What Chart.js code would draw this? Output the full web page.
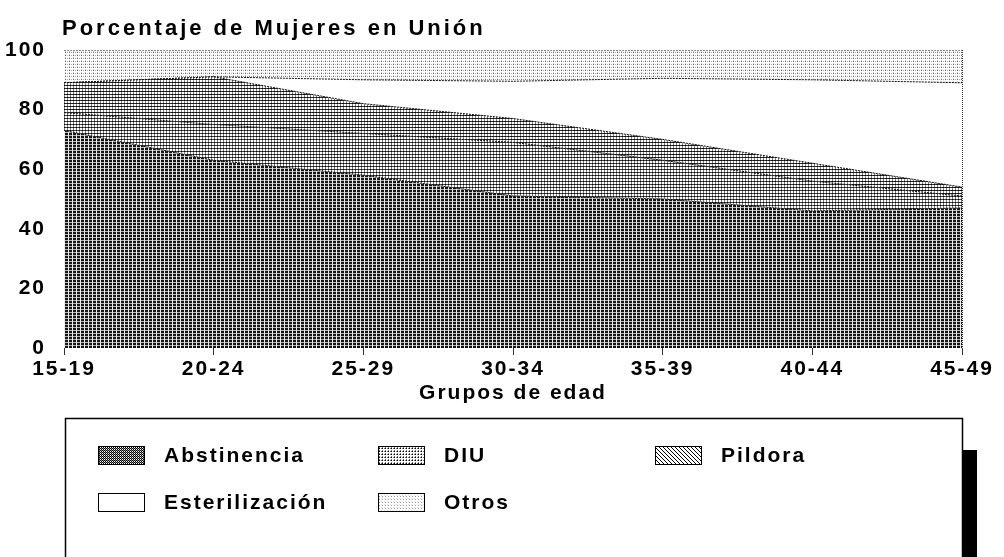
<!DOCTYPE html>
<html lang="es">
<head>
<meta charset="utf-8">
<title>Porcentaje de Mujeres en Unión</title>
<style>
  html, body { margin: 0; padding: 0; background: #fff; }
  canvas { display: block; }
</style>
</head>
<body>
<canvas id="canvas" width="1004" height="557"></canvas>

<script src="https://cdn.jsdelivr.net/npm/chart.js"></script>
<script>
// datos (porcentaje por método, se apilan hasta 100)
const grupos = ['15-19', '20-24', '25-29', '30-34', '35-39', '40-44', '45-49'];
const abstinencia    = [73, 63, 58, 51, 50, 46, 47];
const diu            = [6, 12, 14, 18, 13, 10, 4];
const pildora        = [10, 16, 10, 8, 7, 6, 3];
const esterilizacion = [0, 0, 8, 12.5, 20.5, 28, 35];
const otros          = [11, 9, 10, 10.5, 9.5, 10, 11];
const marcasY = [0, 20, 40, 60, 80, 100];

const FUENTE = "'Liberation Sans', Arial, sans-serif";

// tramas tipo impresora
function patron(w, h, pintar) {
  const c = document.createElement('canvas');
  c.width = w; c.height = h;
  const g = c.getContext('2d');
  g.fillStyle = '#fff';
  g.fillRect(0, 0, w, h);
  pintar(g);
  return g.createPattern(c, 'repeat');
}
function px(g, color, x, y) { g.fillStyle = color; g.fillRect(x, y, 1, 1); }

const relleno = {
  abst: patron(4, 3, g => {
    g.fillStyle = '#151515'; g.fillRect(0, 0, 4, 3);
    g.fillStyle = '#b5b5b5'; g.fillRect(0, 0, 4, 1);
    g.fillStyle = '#eeeeee'; g.fillRect(0, 0, 1, 3);
  }),
  diu: patron(3, 3, g => {
    px(g, '#000', 1, 1);
    px(g, '#444', 0, 1); px(g, '#444', 2, 1);
    px(g, '#777', 1, 0); px(g, '#777', 1, 2);
  }),
  pild: patron(3, 3, g => {
    px(g, '#000', 1, 1); px(g, '#222', 0, 1); px(g, '#333', 2, 1);
    px(g, '#777', 1, 0); px(g, '#888', 1, 2);
  }),
  est: '#ffffff',
  otros: patron(4, 3, g => {
    px(g, '#666', 1, 1); px(g, '#aaa', 3, 1); px(g, '#ccc', 1, 0);
  })
};

// muestras de la leyenda
const muestra = {
  abst: patron(2, 2, g => { px(g, '#000', 0, 0); px(g, '#000', 1, 1); px(g, '#888', 1, 0); }),
  diu: patron(3, 3, g => { px(g, '#000', 1, 1); px(g, '#777', 0, 1); px(g, '#777', 1, 0); }),
  pild: patron(4, 4, g => { for (let i = 0; i < 4; i++) px(g, '#000', i, i); }),
  est: '#ffffff',
  otros: patron(3, 3, g => { px(g, '#999', 1, 1); px(g, '#ddd', 0, 0); })
};

function serie(label, data, fondo, caja, fill) {
  return {
    label: label,
    data: data,
    backgroundColor: fondo,
    muestra: caja,
    fill: fill,
    borderColor: '#111',
    borderWidth: 1,
    borderDash: [2, 1],
    pointRadius: 0,
    tension: 0
  };
}

const espaciado = {
  id: 'espaciado',
  beforeUpdate(chart) { chart.ctx.letterSpacing = '2px'; },
  beforeDraw(chart) { chart.ctx.letterSpacing = '2px'; }
};

const titulo = {
  id: 'titulo',
  afterDraw(chart) {
    const ctx = chart.ctx;
    ctx.save();
    ctx.letterSpacing = '3px';
    ctx.font = 'bold 22px ' + FUENTE;
    ctx.fillStyle = '#000';
    ctx.textBaseline = 'middle';
    ctx.fillText('Porcentaje de Mujeres en Unión', chart.chartArea.left - 2, chart.chartArea.top - 21);
    // borde derecho punteado del área
    ctx.strokeStyle = '#333';
    ctx.setLineDash([1, 1]);
    ctx.beginPath();
    ctx.moveTo(chart.chartArea.right + 0.5, chart.chartArea.top);
    ctx.lineTo(chart.chartArea.right + 0.5, chart.chartArea.bottom);
    ctx.stroke();
    ctx.restore();
  }
};

const leyenda = {
  id: 'leyenda',
  afterDraw(chart) {
    const ctx = chart.ctx;
    ctx.save();
    ctx.letterSpacing = '2px';
    ctx.strokeStyle = '#000';
    ctx.lineWidth = 1.5;
    ctx.beginPath();
    ctx.moveTo(65.5, 560);
    ctx.lineTo(65.5, 418.5);
    ctx.lineTo(962.5, 418.5);
    ctx.lineTo(962.5, 560);
    ctx.stroke();
    ctx.fillStyle = '#000';
    ctx.fillRect(963, 450, 14, 110);

    const cols = [98, 378, 655];
    const filas = [455, 502];
    ctx.font = 'bold 21px ' + FUENTE;
    ctx.textBaseline = 'middle';
    ctx.lineWidth = 1;
    chart.data.datasets.forEach((ds, i) => {
      const x = cols[i % 3], y = filas[Math.floor(i / 3)];
      ctx.fillStyle = ds.muestra;
      ctx.fillRect(x, y - 9, 46, 18);
      ctx.strokeRect(x + 0.5, y - 8.5, 46, 18);
      ctx.fillStyle = '#000';
      ctx.fillText(ds.label, x + 66, y + 1);
    });
    ctx.restore();
  }
};

new Chart(document.getElementById('canvas'), {
  type: 'line',
  data: {
    labels: grupos,
    datasets: [
      serie('Abstinencia', abstinencia, relleno.abst, muestra.abst, 'origin'),
      serie('DIU', diu, relleno.diu, muestra.diu, '-1'),
      serie('Pildora', pildora, relleno.pild, muestra.pild, '-1'),
      serie('Esterilización', esterilizacion, relleno.est, muestra.est, '-1'),
      serie('Otros', otros, relleno.otros, muestra.otros, '-1')
    ]
  },
  options: {
    responsive: false,
    animation: false,
    devicePixelRatio: 1,
    layout: { padding: { left: 0, right: 42, top: 50, bottom: 149 } },
    plugins: {
      legend: { display: false },
      tooltip: { enabled: false },
      filler: { propagate: false }
    },
    scales: {
      x: {
        grid: { display: true, drawOnChartArea: false, drawTicks: true, tickLength: 7, color: '#333' },
        border: { display: false },
        ticks: { font: { family: FUENTE, size: 21, weight: 'bold' }, color: '#000', padding: 2, maxRotation: 0, autoSkip: false },
        title: { display: true, text: 'Grupos de edad', color: '#000', font: { family: FUENTE, size: 21, weight: 'bold' }, padding: { top: 0, bottom: 2 } },
        afterFit(s) { s.height = 60; }
      },
      y: {
        stacked: true,
        min: 0,
        max: 100,
        grid: { display: false },
        border: { display: false },
        afterBuildTicks(s) { s.ticks = marcasY.map(v => ({ value: v })); },
        ticks: { font: { family: FUENTE, size: 21, weight: 'bold' }, color: '#000', padding: 10 },
        afterFit(s) { s.width = 64; }
      }
    }
  },
  plugins: [espaciado, titulo, leyenda]
});
</script>
</body>
</html>
